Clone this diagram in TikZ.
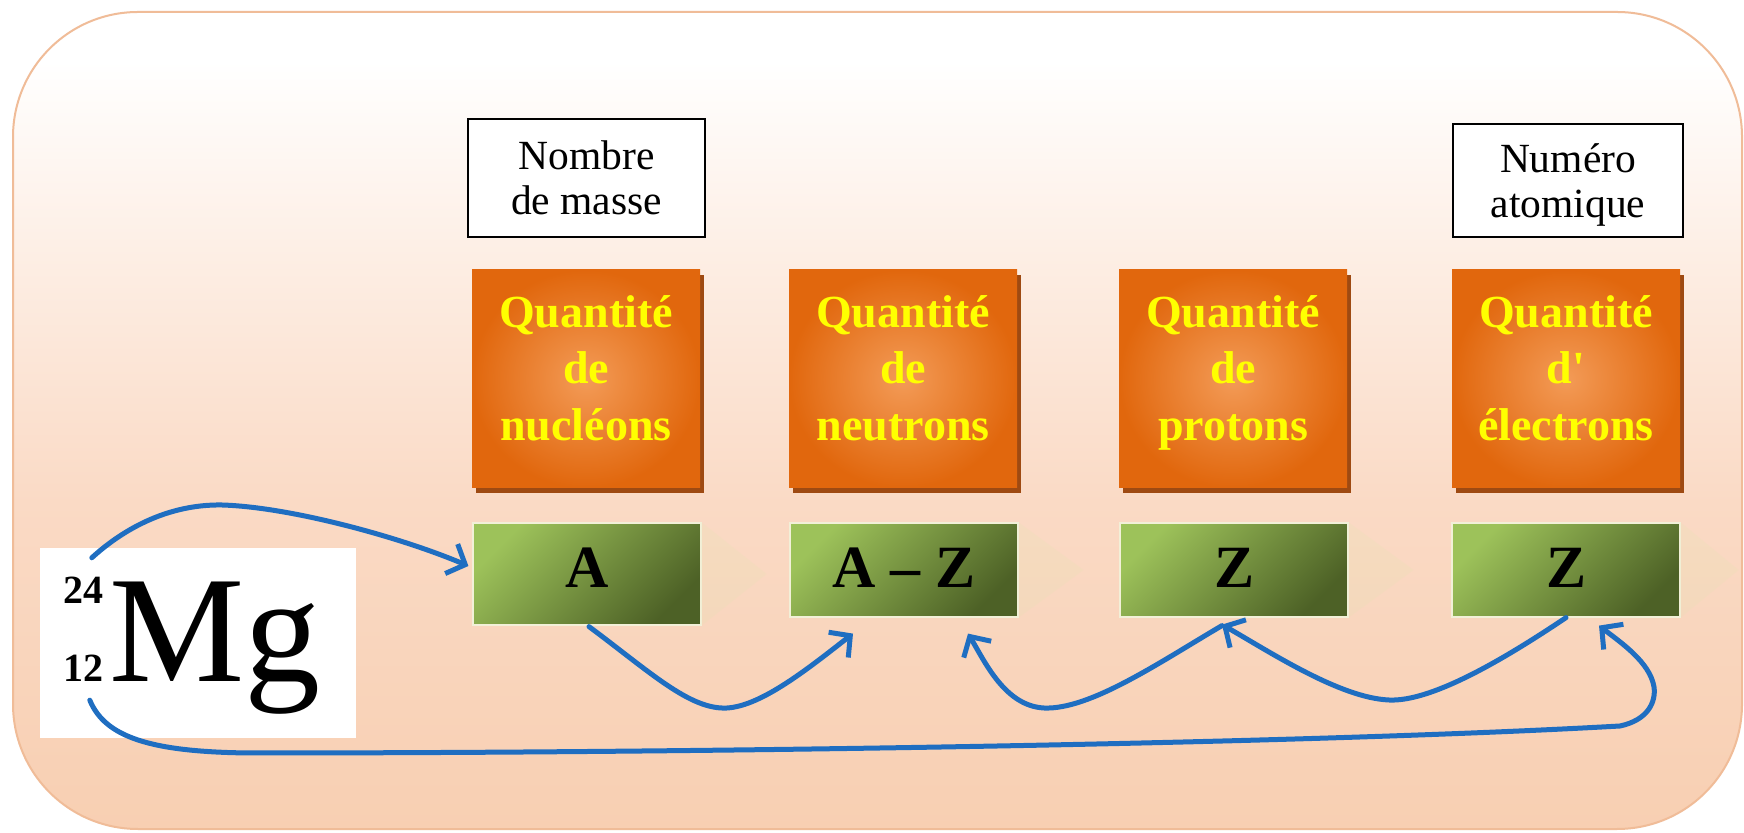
\documentclass[tikz,border=0pt]{standalone}
\usepackage{fontspec}
\setmainfont{Liberation Serif}[Ligatures=TeXOff]
\usetikzlibrary{calc,arrows.meta,shadows}
\definecolor{bgtop}{HTML}{FFFFFF}
\definecolor{bglight}{HTML}{FDEEE4}
\definecolor{bgmid}{HTML}{FADAC5}
\definecolor{bgbot}{HTML}{F8CFB2}
\definecolor{framec}{HTML}{F0BC98}
\definecolor{orin}{HTML}{F39B57}
\definecolor{orout}{HTML}{E1670D}
\definecolor{oshad}{HTML}{9E4A12}
\definecolor{oyel}{HTML}{FFFF00}
\definecolor{glight}{HTML}{9DC25A}
\definecolor{gdark}{HTML}{4D6126}
\definecolor{gedge}{HTML}{F2F0D8}
\definecolor{ablue}{HTML}{1F6EC1}
\definecolor{chevc}{HTML}{E2E6B0}
\pgfdeclareverticalshading{bgshade}{100bp}{color(0bp)=(bgbot); color(25bp)=(bgbot); color(45bp)=(bgmid); color(60bp)=(bglight); color(72bp)=(bgtop); color(100bp)=(bgtop)}
\tikzset{
  lbl/.style={draw=black, line width=1.5pt, fill=white, align=center, inner sep=0pt,
    font=\fontsize{41.5}{45}\selectfont},
  obox/.style={minimum width=228pt, minimum height=218pt, inner sep=0pt,
    inner color=orin, outer color=orout,
    drop shadow={shadow xshift=4pt, shadow yshift=-5pt, fill=oshad, opacity=1}},
  otext/.style={align=center, text=oyel, inner sep=0pt,
    font=\fontsize{46}{56.5}\selectfont\bfseries},
  gbox/.style={minimum width=228pt, minimum height=94pt, inner sep=0pt,
    top color=glight, bottom color=gdark, shading angle=45,
    draw=gedge, line width=1.2pt, text height=36pt, text depth=0pt,
    font=\fontsize{60}{60}\selectfont\bfseries},
  chev/.style={fill=chevc, opacity=.18},
  conn/.style={draw=ablue, line width=5pt, line cap=round, line join=round,
    -{Straight Barb[length=15pt,width=32pt]}},
}
\begin{document}
\begin{tikzpicture}[x=1pt,y=1pt]
\fill[white] (0,0) rectangle (1744,832);
\useasboundingbox (0,0) rectangle (1744,832);
% frame
\path[shade, shading=bgshade, draw=framec, line width=2pt, rounded corners=125pt] (13,3) rectangle (1742,820);
% label boxes
\node[lbl, minimum width=237pt, minimum height=118pt] (nm) at (586.5,654) {Nombre\\de masse};
\node[lbl, minimum width=230pt, minimum height=113pt] (na) at (1568,651.5) {Numéro\\\smash{atomique}};
% orange boxes
\node[obox] (o1) at (586,453) {};
\node[obox] (o2) at (903,453) {};
\node[obox] (o3) at (1233,453) {};
\node[obox] (o4) at (1566,453) {};
\node[otext] (t1) at ($(o1.center)+(0,11)$) {Quantité\\de\\\smash{nucléons}};
\node[otext] (t2) at ($(o2.center)+(0,11)$) {Quantité\\de\\\smash{neutrons}};
\node[otext] (t3) at ($(o3.center)+(0,11)$) {Quantité\\de\\\smash{protons}};
\node[otext] (t4) at ($(o4.center)+(0,11)$) {Quantité\\d'\\\smash{électrons}};
% green boxes
\node[gbox, minimum height=102pt] (g1) at (587,258) {\raisebox{4pt}{A}};
\node[gbox] (g2) at (904,262) {A – Z};
\node[gbox] (g3) at (1234,262) {Z};
\node[gbox] (g4) at (1566,262) {Z};
% faint chevrons
\fill[chev] (g1.north east) -- ($(g1.east)+(65,0)$) -- (g1.south east) -- cycle;
\fill[chev] (g2.north east) -- ($(g2.east)+(65,0)$) -- (g2.south east) -- cycle;
\fill[chev] (g3.north east) -- ($(g3.east)+(65,0)$) -- (g3.south east) -- cycle;
\fill[chev] (g4.north east) -- ($(g4.east)+(58,0)$) -- (g4.south east) -- cycle;
% Mg symbol
\node[fill=white, minimum width=316pt, minimum height=190pt, inner sep=0pt] (mg) at (198,189) {};
\node[anchor=base west, inner sep=0pt] (mgtext) at (63,150)
  {{\fontsize{40}{40}\selectfont\bfseries\rlap{\raisebox{78pt}{24}}12}\hspace{6pt}{\fontsize{152}{152}\selectfont Mg}};
% connectors
\draw[conn] ($(mg.north west)+(52,-10)$) .. controls (120,300) and (165,328) .. (222,327)
  .. controls (290,325) and (400,295) .. ($(g1.west)+(-4,8)$);
\draw[conn] ($(g1.south)+(2,-1)$) .. controls (650,160) and (690,122) .. (727,124)
  .. controls (762,126) and (810,165) .. ($(g2.south)+(-51,-16)$);
\draw[conn] ($(g3.south)+(-12,-8)$) .. controls (1160,170) and (1090,122) .. (1044,124)
  .. controls (1005,126) and (985,170) .. ($(g2.south)+(64,-16)$);
\draw[conn] (g4.south) .. controls (1500,170) and (1430,130) .. (1389,132)
  .. controls (1340,134) and (1270,180) .. ($(g3.south)+(-12,-7)$);
\draw[conn] ($(mg.south west)+(50,38)$) .. controls (105,95) and (150,80) .. (250,79)
  .. controls (700,79) and (1300,88) .. (1620,106)
  .. controls (1648,112) and (1656,130) .. (1654,145)
  .. controls (1650,170) and (1620,190) .. ($(g4.south)+(33,-8)$);
\end{tikzpicture}
\end{document}
